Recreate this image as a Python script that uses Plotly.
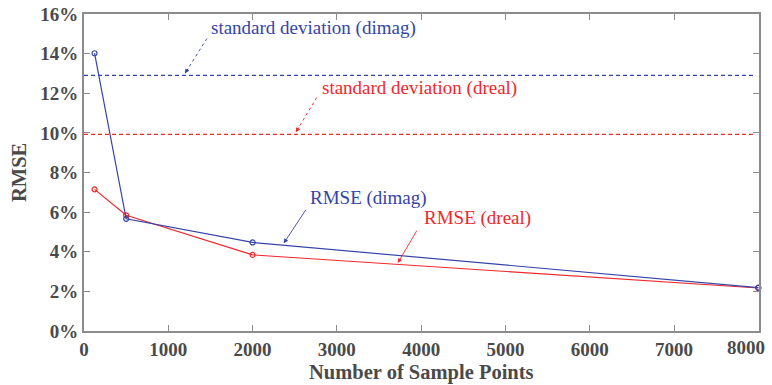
import plotly.graph_objects as go

sample_points = [125, 500, 2000, 8000]
rmse_dimag = [14.02, 5.66, 4.47, 2.19]
rmse_dreal = [7.15, 5.84, 3.84, 2.17]
std_dimag = 12.9
std_dreal = 9.92
x_range = [0, 8000]
y_ticks = [0, 2, 4, 6, 8, 10, 12, 14, 16]
y_tick_labels = [f"{v}%" for v in y_ticks]
x_ticks = [0, 1000, 2000, 3000, 4000, 5000, 6000, 7000, 8000]
x_tick_labels = [str(v) for v in x_ticks]

BLUE = "#3444a8"
RED = "#f0282c"
GRAY = "#4a4a4a"
AXC = "#8c8c8c"
FONT = "Liberation Serif"

fig = go.Figure()
fig.add_trace(go.Scatter(x=[0, 7950], y=[std_dimag, std_dimag], mode="lines",
                         line=dict(color=BLUE, width=1.2, dash="4px,3px")))
fig.add_trace(go.Scatter(x=[0, 7950], y=[std_dreal, std_dreal], mode="lines",
                         line=dict(color=RED, width=1.3, dash="4px,3px")))
fig.add_trace(go.Scatter(x=sample_points, y=rmse_dreal, mode="lines+markers",
                         line=dict(color=RED, width=1.2),
                         marker=dict(symbol="circle-open", size=5, color=RED, line=dict(width=1.2)),
                         cliponaxis=False))
fig.add_trace(go.Scatter(x=sample_points, y=rmse_dimag, mode="lines+markers",
                         line=dict(color=BLUE, width=1.2),
                         marker=dict(symbol="circle-open", size=5, color=BLUE, line=dict(width=1.2)),
                         cliponaxis=False))

def label(text, color, x, y):
    fig.add_annotation(x=x, y=y, xref="x", yref="y", text=text, showarrow=False,
                       font=dict(family=FONT, size=19, color=color),
                       xanchor="left", yanchor="middle")

def arrow(color, x, y, tx, ty, dotted=False):
    # x,y: head in data coords; tx,ty: tail in data coords
    if dotted:
        fig.add_shape(type="line", x0=tx, y0=ty, x1=x, y1=y, xref="x", yref="y",
                      line=dict(color=color, width=0.9, dash="dot"))
        dx = (tx - x) * 0.18
        dy = (ty - y) * 0.18
        fig.add_annotation(x=x, y=y, xref="x", yref="y", ax=x + dx, ay=y + dy,
                           axref="x", ayref="y", text="", showarrow=True, arrowhead=2,
                           arrowsize=1, arrowwidth=0.9, arrowcolor=color, standoff=0)
    else:
        fig.add_annotation(x=x, y=y, xref="x", yref="y", ax=tx, ay=ty,
                           axref="x", ayref="y", text="", showarrow=True, arrowhead=2,
                           arrowsize=1, arrowwidth=0.9, arrowcolor=color, standoff=0)

label("standard deviation (dimag)", BLUE, 1481, 15.31)
arrow(BLUE, 1197, 13.0, 1458, 14.76, dotted=True)
label("standard deviation (dreal)", RED, 2797, 12.29)
arrow(RED, 2513, 10.03, 2762, 11.79, dotted=True)
label("RMSE (dimag)", BLUE, 2655, 6.70)
arrow(BLUE, 2370, 4.43, 2643, 6.19)
label("RMSE (dreal)", RED, 4006, 5.69)
arrow(RED, 3722, 3.43, 3959, 5.14)

# last x tick label sits flush with the right edge, as in the reference
fig.add_annotation(x=x_ticks[-1], y=0, xref="x", yref="paper", yshift=-16, xshift=9,
                   showarrow=False, text=f"<b>{x_tick_labels[-1]}</b>",
                   xanchor="right", yanchor="middle",
                   font=dict(family=FONT, size=19, color=GRAY))

# axis titles as annotations for precise placement
fig.add_annotation(x=0.5, y=0, xref="paper", yref="paper", yshift=-41, showarrow=False,
                   text="<b>Number of Sample Points</b>", xanchor="center", yanchor="middle",
                   font=dict(family=FONT, size=20.5, color=GRAY))
fig.add_annotation(x=0, y=0.5, xref="paper", yref="paper", xshift=-65.5, showarrow=False,
                   text="<b>RMSE</b>", textangle=-90, xanchor="center", yanchor="middle",
                   font=dict(family=FONT, size=20.5, color=GRAY))

fig.update_layout(
    width=772, height=385,
    margin=dict(l=84, r=13, t=14, b=54),
    plot_bgcolor="white", paper_bgcolor="white",
    showlegend=False,
    font=dict(family=FONT, color=GRAY),
    xaxis=dict(range=[0, 8008], tickvals=x_ticks, ticktext=x_tick_labels[:-1] + [""],
               ticks="inside", ticklen=6, tickcolor=AXC,
               showline=True, linecolor=AXC, linewidth=2, mirror="ticks", showgrid=False, zeroline=False,
               automargin=False, ticklabeloverflow="allow",
               tickfont=dict(family=FONT, size=19, color=GRAY, weight="bold")),
    yaxis=dict(range=[0, 16], tickvals=y_ticks, ticktext=y_tick_labels, ticks="inside", ticklen=6,
               tickcolor=AXC, showline=True, linecolor=AXC, linewidth=2, mirror="ticks",
               showgrid=False, zeroline=False, automargin=False, ticklabeloverflow="allow",
               tickfont=dict(family=FONT, size=19, color=GRAY, weight="bold")),
)
fig.write_html("out.html", config={"displayModeBar": False},
               post_script="document.body.style.margin='0';document.body.style.overflow='hidden';")
